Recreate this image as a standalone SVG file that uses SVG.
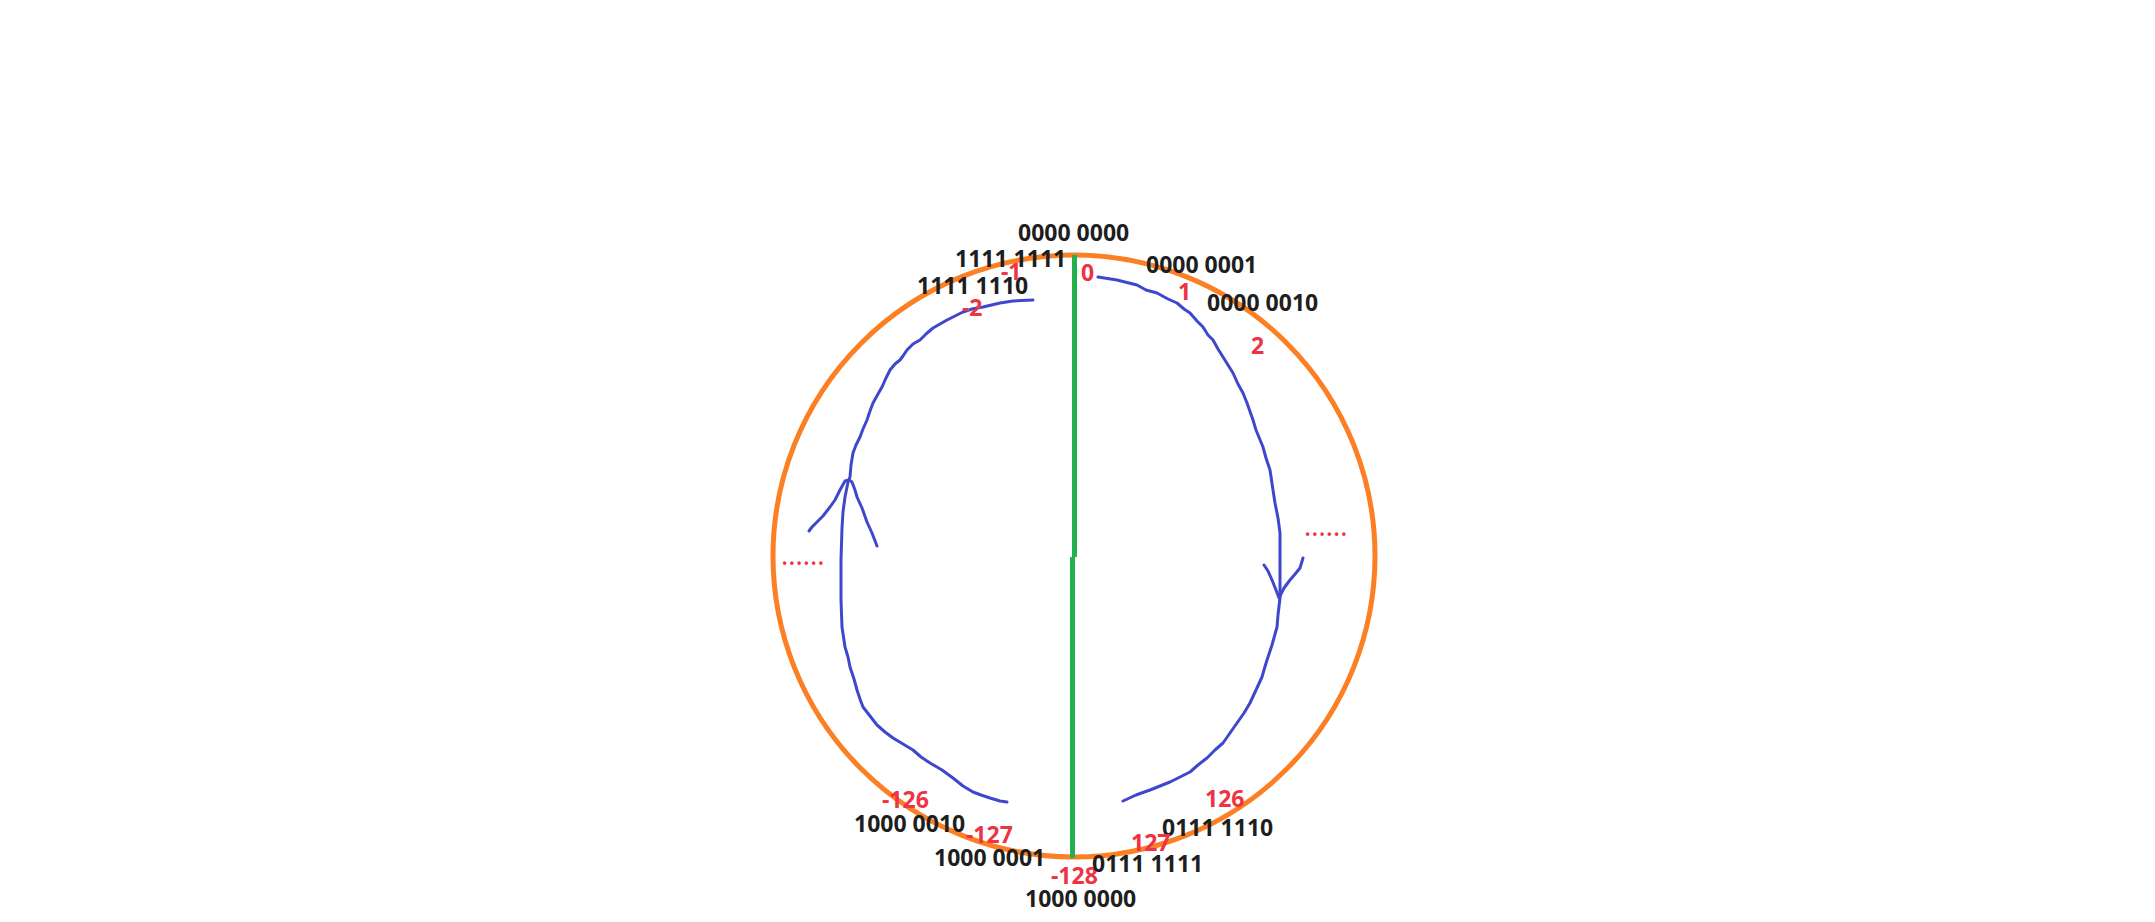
<svg xmlns="http://www.w3.org/2000/svg" width="2155" height="922" viewBox="0 0 2155 922">
<style>
.bin{font-family:"Noto Sans","Liberation Sans",sans-serif;font-weight:700;font-size:23px;fill:#1e1e1e}
.num{font-family:"Noto Sans","Liberation Sans",sans-serif;font-weight:700;font-size:23px;fill:#ee3344}
.dots{font-family:"Noto Sans","Liberation Sans",sans-serif;font-size:27px;fill:#ee3344}
.ring{fill:none;stroke:#fd7f24;stroke-width:5}
.axis{stroke:#22b14c;stroke-width:5;fill:none}
.hand{fill:none;stroke:#3f48cc;stroke-width:3;stroke-linecap:round;stroke-linejoin:round}
</style>
<rect width="2155" height="922" fill="#ffffff"/>
<g id="ring"><circle class="ring" cx="1074" cy="556" r="301"/></g>
<g id="axis">
<line class="axis" x1="1074.5" y1="255" x2="1074.5" y2="557"/>
<line class="axis" x1="1072.5" y1="557" x2="1072.5" y2="858"/>
</g>
<g id="connectors">
<polyline class="hand" points="1098,277 1117,280 1137,285 1146,290 1157,293 1168,299 1177,303 1184,309 1190,313 1197,321 1203,327 1208,335 1213,340 1218,349 1223,357 1228,365 1233,373 1238,384 1243,393 1247,403 1253,420 1256,430 1263,447 1266,458 1270,470 1273,490 1275,503 1278,518 1280,533 1280,597"/>
<polyline class="hand" points="1264,565 1268,571 1272,580 1276,590 1279,598 1284,588 1290,580 1296,573 1300,568 1303,558"/>
<polyline class="hand" points="1280,598 1278,615 1277,627 1272,645 1267,660 1264,670 1262,677 1256,690 1250,703 1244,713 1237,723 1230,733 1223,743 1215,750 1207,758 1198,765 1190,772 1180,777 1170,782 1160,786 1150,790 1136,795 1123,801"/>
<polyline class="hand" points="1033,300 1013,301 1000,303 983,307 972,309 963,312 955,316 947,320 940,324 933,328 926,334 920,340 913,344 907,350 903,356 900,360 895,364 890,370 886,378 882,387 878,394 873,403 870,411 867,420 863,429 860,437 856,445 853,453 851,465 850,477 848,482 845,497 843,512 842,528 841,560 841,600 842,627 845,647 848,657 850,667 854,679 857,690 860,699 863,707 870,716 877,725 885,732 893,738 903,744 913,750 921,757 930,763 942,770 953,778 963,786 973,792 981,795 990,798 1000,801 1007,802"/>
<polyline class="hand" points="809,531 812,527 817,522 823,516 830,507 835,500 840,490 845,481 849,480 852,482 855,490 857,497 862,508 867,522 872,533 877,546"/>
</g>
<g id="labels">
<text class="bin" x="1018" y="241">0000 0000</text>
<text class="bin" x="955" y="267">1111 1111</text>
<text class="bin" x="917" y="294">1111 1110</text>
<text class="bin" x="1146" y="273">0000 0001</text>
<text class="bin" x="1207" y="311">0000 0010</text>
<text class="num" x="1001" y="280">-1</text>
<text class="num" x="1081" y="281">0</text>
<text class="num" x="962" y="316">-2</text>
<text class="num" x="1178" y="300">1</text>
<text class="num" x="1251" y="354">2</text>
<text class="num" x="882" y="808">-126</text>
<text class="bin" x="854" y="832">1000 0010</text>
<text class="num" x="966" y="843">-127</text>
<text class="bin" x="934" y="866">1000 0001</text>
<text class="num" x="1051" y="884">-128</text>
<text class="bin" x="1025" y="907">1000 0000</text>
<text class="num" x="1205" y="807">126</text>
<text class="bin" x="1162" y="836">0111 1110</text>
<text class="num" x="1131" y="851">127</text>
<text class="bin" x="1092" y="872">0111 1111</text>
<text class="dots" x="781" y="565">......</text>
<text class="dots" x="1304" y="536">......</text>
</g>
</svg>
